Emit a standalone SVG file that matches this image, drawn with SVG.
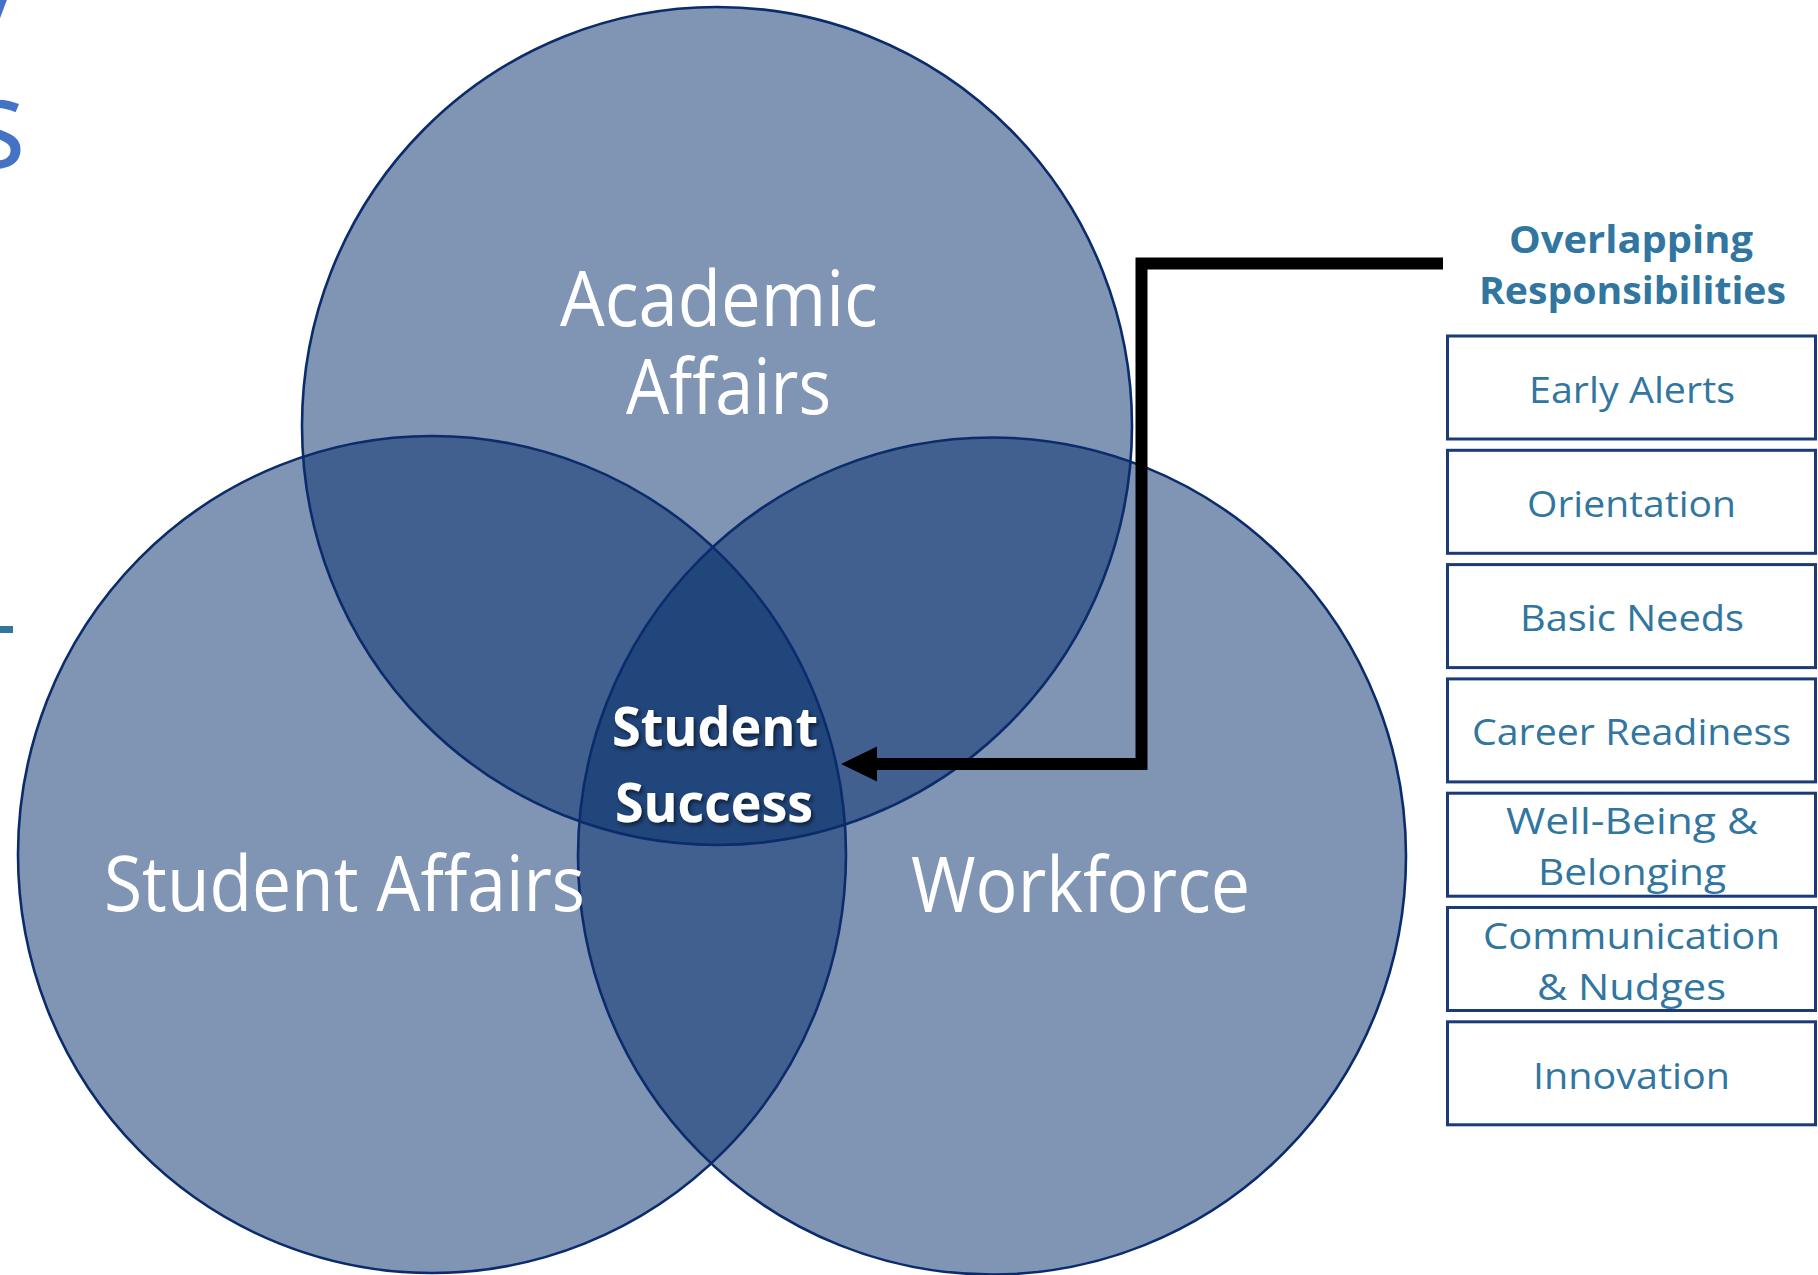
<svg xmlns="http://www.w3.org/2000/svg" width="1818" height="1275" viewBox="0 0 1818 1275">
<defs>
<style>
.cfill{fill:#012B69;fill-opacity:0.5;stroke:none}
.cstroke{fill:none;stroke:#0B2C6C;stroke-width:2.6}
.big{font-family:"Open Sans","Noto Sans",sans-serif;font-size:76px;fill:#FFFFFF}
.ss{font-family:"Open Sans","Noto Sans",sans-serif;font-size:53px;font-weight:bold;fill:#FFFFFF;filter:url(#shadow)}
.hdr{font-family:"Open Sans","Noto Sans",sans-serif;font-size:38px;font-weight:bold;fill:#3176A0}
.box{fill:#FFFFFF;stroke:#1B3A78;stroke-width:3}
.bt{font-family:"Open Sans","Noto Sans",sans-serif;font-size:36px;fill:#3176A0}
.ttl{font-family:"Open Sans","Noto Sans",sans-serif;font-size:125px;fill:#4472C4}
.conn{fill:none;stroke:#000000;stroke-width:12;stroke-linejoin:miter}
</style>
<filter id="shadow" x="-20%" y="-30%" width="140%" height="160%">
<feDropShadow dx="2" dy="2.5" stdDeviation="2" flood-color="#000000" flood-opacity="0.6"/>
</filter>
<marker id="arrow" markerUnits="userSpaceOnUse" markerWidth="36" markerHeight="36" viewBox="0 0 36 36" refX="0" refY="17.5" orient="auto-start-reverse">
<path d="M0,0 L36,17.5 L0,35 z" fill="#000000"/>
</marker>
</defs>
<rect width="1818" height="1275" fill="#FFFFFF"/>

<g id="title-fragment">
<text class="ttl" x="28" y="11" text-anchor="end">y</text>
<text class="ttl" x="26" y="168" text-anchor="end">s</text>
<rect x="0" y="626" width="13" height="7" fill="#3176A0"/>
</g>

<g id="venn">
<g id="circle-fills">
<ellipse class="cfill" cx="717" cy="426" rx="415" ry="419"/>
<ellipse class="cfill" cx="432" cy="854.5" rx="414" ry="418.5"/>
<ellipse class="cfill" cx="992" cy="856" rx="414" ry="418.5"/>
</g>
<g id="circle-strokes">
<ellipse class="cstroke" cx="717" cy="426" rx="415" ry="419"/>
<ellipse class="cstroke" cx="432" cy="854.5" rx="414" ry="418.5"/>
<ellipse class="cstroke" cx="992" cy="856" rx="414" ry="418.5"/>
</g>
</g>

<g id="academic-affairs">
<text class="big" x="560" y="326" textLength="318" lengthAdjust="spacingAndGlyphs">Academic</text>
<text class="big" x="626" y="414" textLength="205" lengthAdjust="spacingAndGlyphs">Affairs</text>
</g>
<g id="student-affairs">
<text class="big" x="104" y="911" textLength="481" lengthAdjust="spacingAndGlyphs">Student Affairs</text>
</g>
<g id="workforce">
<text class="big" x="911" y="912" textLength="339" lengthAdjust="spacingAndGlyphs">Workforce</text>
</g>
<g id="student-success">
<text class="ss" x="612" y="746" textLength="206" lengthAdjust="spacingAndGlyphs">Student</text>
<text class="ss" x="615" y="822" textLength="198" lengthAdjust="spacingAndGlyphs">Success</text>
</g>

<g id="connectors">
<path class="conn" d="M877,764 H1141.5 V263.5 H1443" marker-start="url(#arrow)"/>
</g>

<g id="overlapping-header">
<text class="hdr" x="1509" y="253" textLength="244" lengthAdjust="spacingAndGlyphs">Overlapping</text>
<text class="hdr" x="1479" y="304" textLength="307" lengthAdjust="spacingAndGlyphs">Responsibilities</text>
</g>

<g id="box-early-alerts">
<rect class="box" x="1447.5" y="336" width="368" height="103"/>
<text class="bt" x="1529" y="403" textLength="206" lengthAdjust="spacingAndGlyphs">Early Alerts</text>
</g>
<g id="box-orientation">
<rect class="box" x="1447.5" y="450.3" width="368" height="103"/>
<text class="bt" x="1527" y="517" textLength="209" lengthAdjust="spacingAndGlyphs">Orientation</text>
</g>
<g id="box-basic-needs">
<rect class="box" x="1447.5" y="564.6" width="368" height="103"/>
<text class="bt" x="1520" y="631" textLength="224" lengthAdjust="spacingAndGlyphs">Basic Needs</text>
</g>
<g id="box-career-readiness">
<rect class="box" x="1447.5" y="678.9" width="368" height="103"/>
<text class="bt" x="1472" y="745" textLength="319" lengthAdjust="spacingAndGlyphs">Career Readiness</text>
</g>
<g id="box-well-being">
<rect class="box" x="1447.5" y="793.2" width="368" height="103"/>
<text class="bt" x="1506" y="834" textLength="252" lengthAdjust="spacingAndGlyphs">Well-Being &amp;</text>
<text class="bt" x="1538" y="885" textLength="188" lengthAdjust="spacingAndGlyphs">Belonging</text>
</g>
<g id="box-communication">
<rect class="box" x="1447.5" y="907.5" width="368" height="103"/>
<text class="bt" x="1483" y="949" textLength="297" lengthAdjust="spacingAndGlyphs">Communication</text>
<text class="bt" x="1537" y="1000" textLength="189" lengthAdjust="spacingAndGlyphs">&amp; Nudges</text>
</g>
<g id="box-innovation">
<rect class="box" x="1447.5" y="1021.8" width="368" height="103"/>
<text class="bt" x="1533" y="1089" textLength="197" lengthAdjust="spacingAndGlyphs">Innovation</text>
</g>
</svg>
